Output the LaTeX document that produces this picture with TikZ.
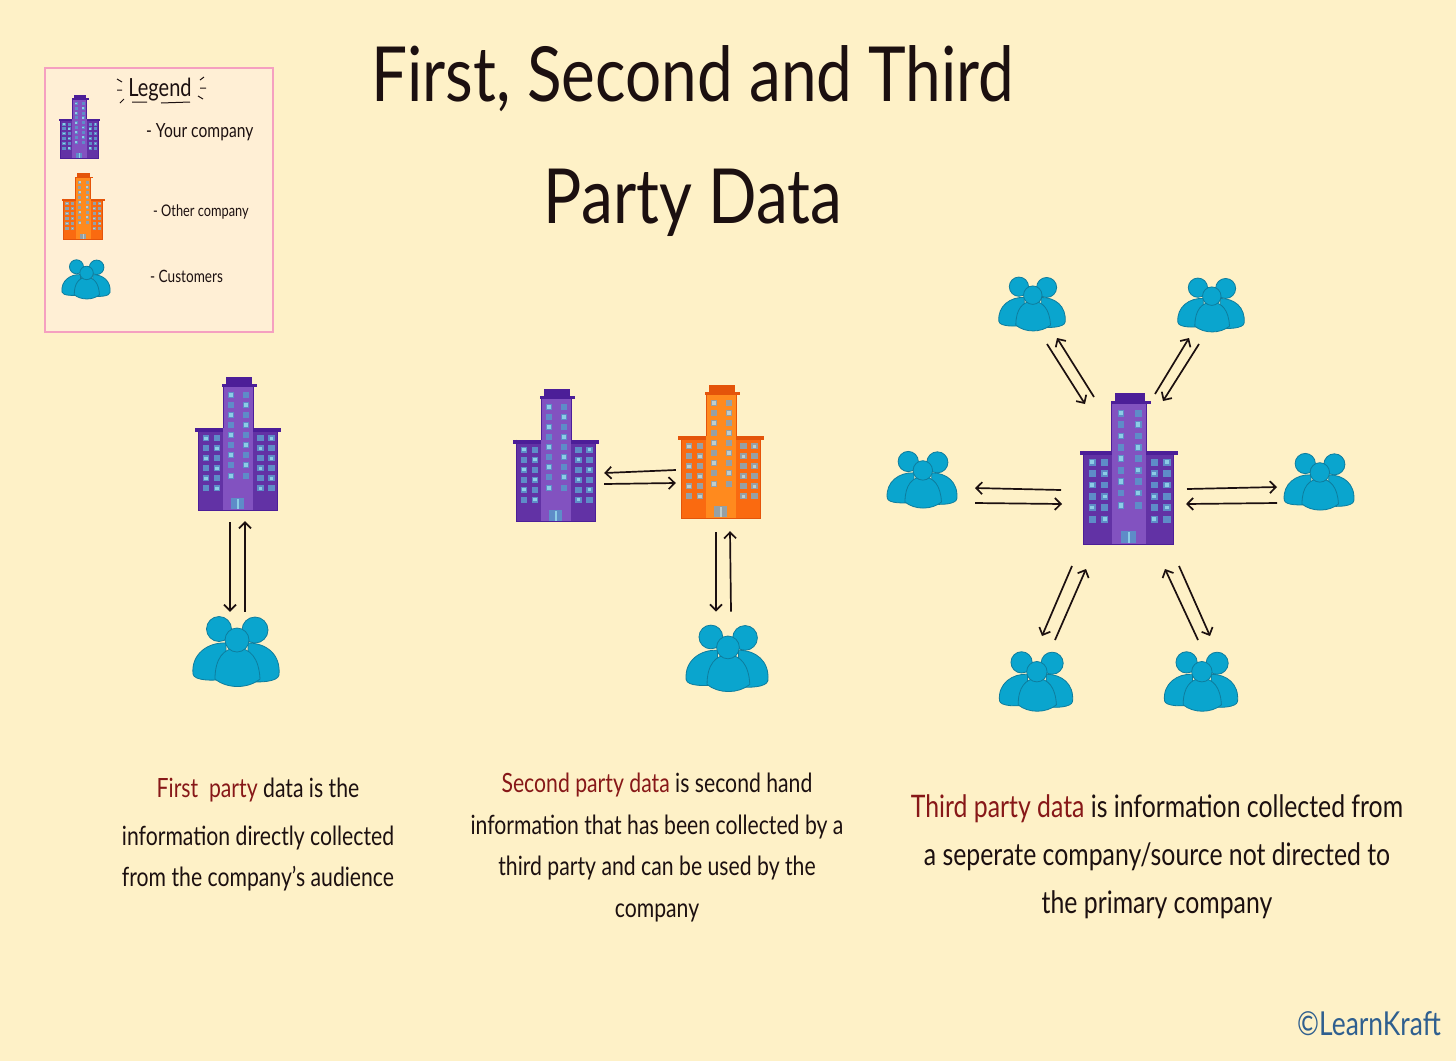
\documentclass[tikz,border=0pt]{standalone}
\usepackage{fontspec}
\usepackage{xcolor}
\usepackage{tikz}
\usetikzlibrary{arrows.meta,positioning}
\setmainfont{Lato}[FakeStretch=0.8]
\newfontfamily\titlefont{Lato}[FakeStretch=0.84]
\definecolor{papercol}{RGB}{254,241,199}
\definecolor{legendcol}{RGB}{255,239,213}
\definecolor{legendline}{RGB}{245,160,192}
\definecolor{inkcol}{RGB}{28,16,16}
\definecolor{redcol}{RGB}{135,24,24}
\definecolor{signcol}{RGB}{47,95,143}
\definecolor{purpletower}{RGB}{130,82,192}
\definecolor{purplewing}{RGB}{98,50,165}
\definecolor{purpleline}{RGB}{76,30,152}
\definecolor{purplewin}{RGB}{94,140,200}
\definecolor{purplelit}{RGB}{140,205,230}
\definecolor{orangetower}{RGB}{255,138,30}
\definecolor{orangewing}{RGB}{250,106,16}
\definecolor{orangeline}{RGB}{228,84,10}
\definecolor{orangewin}{RGB}{150,160,165}
\definecolor{orangelit}{RGB}{190,205,205}
\definecolor{crowdcol}{RGB}{10,165,206}
\definecolor{crowdline}{RGB}{14,125,158}
\tikzset{
  arrow/.style={-{Straight Barb[length=6pt,width=12pt]},line width=1.7pt,draw=inkcol},
  company/.style={minimum width=#1*86pt,minimum height=#1*134pt,inner sep=0pt},
  crowd/.style={minimum width=#1*86pt,minimum height=#1*70pt,inner sep=0pt},
  caption/.style={align=center,text=inkcol,inner sep=0pt},
  legendtext/.style={anchor=west,text=inkcol,inner sep=0pt},
  pics/tower/.style={code={
    \fill[#1wing] (-40,-16) rectangle (-15,66);
    \fill[#1wing] (15,-16) rectangle (39,66);
    \fill[#1tower] (-15,-57) rectangle (15,66);
    \draw[#1line,line width=1pt] (-40,-16) -- (-40,66) -- (39,66) -- (39,-16);
    \draw[#1line,line width=1pt] (-15,-57) -- (-15,-16) (15,-57) -- (15,-16);
    \fill[#1line] (-12,-67) rectangle (14,-60);
    \fill[#1line] (-16,-60) rectangle (19,-57);
    \fill[#1line] (-43,-16) rectangle (-15,-12);
    \fill[#1line] (15,-16) rectangle (43,-12);
    \foreach \wy [count=\wn] in {-49,-39,-29,-19,-9,1,11,21,32} {
      \fill[#1win] (-10,\wy-3) rectangle (-4,\wy+3);
      \fill[#1win] (5,\wy-3) rectangle (11,\wy+3);
      \ifodd\wn
        \fill[#1lit] (-9,\wy-2) rectangle (-5,\wy+2);
      \else
        \fill[#1lit] (6,\wy-2) rectangle (10,\wy+2);
      \fi
    }
    \foreach \wy [count=\wn] in {-6,4,14,24,34,44} {
      \fill[#1win] (-35.5,\wy-3) rectangle (-29,\wy+3);
      \fill[#1win] (-24.5,\wy-3) rectangle (-18,\wy+3);
      \fill[#1win] (19,\wy-3) rectangle (25.5,\wy+3);
      \fill[#1win] (30,\wy-3) rectangle (36.5,\wy+3);
      \ifodd\wn
        \fill[#1lit] (-34,\wy-1.5) rectangle (-30.5,\wy+1.5);
        \fill[#1lit] (31.5,\wy-1.5) rectangle (35,\wy+1.5);
      \else
        \fill[#1lit] (-23,\wy-1.5) rectangle (-19.5,\wy+1.5);
        \fill[#1lit] (20.5,\wy-1.5) rectangle (24,\wy+1.5);
      \fi
    }
    \fill[#1win] (-7,54) rectangle (6,65);
    \fill[#1lit] (-1,55) rectangle (0.5,65);
  }},
  pics/people/.style={code={
    \begin{scope}[fill=crowdcol,draw=crowdline,line width=0.8pt]
      \filldraw (-17,-29) circle (12.5);
      \filldraw (19,-28) circle (13);
      \filldraw (-43,16) .. controls (-45,-4) and (-28,-16) .. (-10,-15)
        -- (-10,21) .. controls (-22,23) and (-42,23) .. (-43,16) -- cycle;
      \filldraw (43,17) .. controls (45,-4) and (30,-15) .. (12,-15)
        -- (12,23) .. controls (22,25) and (42,24) .. (43,17) -- cycle;
      \filldraw (-21,21) .. controls (-21,0) and (-12,-10) .. (1,-10)
        .. controls (14,-10) and (23,0) .. (24,21)
        .. controls (12,31) and (-9,31) .. (-21,21) -- cycle;
      \filldraw (1,-18) circle (12);
    \end{scope}
  }}
}
\begin{document}
\begin{tikzpicture}[x=1pt,y=-1pt]
  \useasboundingbox (0,0) rectangle (1456,1061);
  \fill[papercol] (0,0) rectangle (1456,1061);
  % title
  \node[caption,font=\titlefont\fontsize{76}{122}\selectfont] (title) at (693,141)
    {First, Second and Third\\Party Data};
  % legend
  \node[draw=legendline,fill=legendcol,line width=2pt,minimum width=228pt,minimum height=264pt,
    inner sep=0pt] (legend) at (159,200) {};
  \node[text=inkcol,inner sep=0pt,font=\fontsize{25}{27}\selectfont] (legendtitle) at (160,90) {Legend};
  \draw[inkcol,line width=1pt] (117,79)--(122,82) (117,90)--(122,90) (120,103)--(124,99)
    (200,80)--(204,77) (200,88)--(206,88) (198,96)--(203,99)
    (132,102)--(147,102) (161,103)--(190,102);
  \pic[scale=.48] at (79.5,127) {tower=purple};
  \pic[scale=.5] at (83,206.5) {tower=orange};
  \pic[scale=.56] at (86,283) {people};
  \node[legendtext,font=\fontsize{19.5}{22}\selectfont] (legyour) at (146,132) {- Your company};
  \node[legendtext,font=\fontsize{16}{20}\selectfont] (legother) at (153,212) {- Other company};
  \node[legendtext,font=\fontsize{17}{20}\selectfont] (legcust) at (150,276) {- Customers};
  % first party
  \node[company=1] (first) at (238,444) {};
  \node[crowd=1] (firstcrowd) at (236,652) {};
  \pic at (first.center) {tower=purple};
  \pic at (236,658) {people};
  \draw[arrow] ([shift={(-8,11)}]first.south) -- ([shift={(-6,-5)}]firstcrowd.north);
  \draw[arrow] ([shift={(9,-5)}]firstcrowd.north) -- ([shift={(7,10)}]first.south);
  % second party
  \node[company=1] (second) at (556,455.5) {};
  \node[company=1] (other) at (721,452) {};
  \node[crowd=.95] (othercrowd) at (727,658) {};
  \pic at (second.center) {tower=purple};
  \pic at (other.center) {tower=orange};
  \pic[scale=.95] at (727,664.5) {people};
  \draw[arrow] ([shift={(-2,18)}]other.west) -- ([shift={(5,17.5)}]second.east);
  \draw[arrow] ([shift={(5,28.5)}]second.east) -- ([shift={(-2,31)}]other.west);
  \draw[arrow] ([shift={(-5,13)}]other.south) -- ([shift={(-11,-13)}]othercrowd.north);
  \draw[arrow] ([shift={(4,-13)}]othercrowd.north) -- ([shift={(9,12)}]other.south);
  % third party
  \node[company=1.14] (hub) at (1129,469) {};
  \node[crowd=.77] (crowdtl) at (1032,304) {};
  \node[crowd=.77] (crowdtr) at (1211,305) {};
  \node[crowd=.81] (crowdl) at (922,480) {};
  \node[crowd=.81] (crowdr) at (1319,482) {};
  \node[crowd=.85] (crowdbl) at (1036,682) {};
  \node[crowd=.85] (crowdbr) at (1201,682) {};
  \pic[scale=1.14] at (hub.center) {tower=purple};
  \pic[scale=.77] at (1032,309) {people};
  \pic[scale=.77] at (1211,310) {people};
  \pic[scale=.81] at (922,485) {people};
  \pic[scale=.81] at (1319,487) {people};
  \pic[scale=.85] at (1036,687) {people};
  \pic[scale=.85] at (1201,687) {people};
  \draw[arrow] ([shift={(-35,-72)}]hub.center) -- ([shift={(25,34)}]crowdtl.center);
  \draw[arrow] ([shift={(15,40)}]crowdtl.center) -- ([shift={(-44,-65)}]hub.center);
  \draw[arrow] ([shift={(26,-75)}]hub.center) -- ([shift={(-22,33)}]crowdtr.center);
  \draw[arrow] ([shift={(-12,39)}]crowdtr.center) -- ([shift={(34,-68)}]hub.center);
  \draw[arrow] ([shift={(-68,21)}]hub.center) -- ([shift={(53,8)}]crowdl.center);
  \draw[arrow] ([shift={(53,23)}]crowdl.center) -- ([shift={(-67,35)}]hub.center);
  \draw[arrow] ([shift={(58,20)}]hub.center) -- ([shift={(-42,5)}]crowdr.center);
  \draw[arrow] ([shift={(-42,21)}]crowdr.center) -- ([shift={(57,35)}]hub.center);
  \draw[arrow] ([shift={(-57,97)}]hub.center) -- ([shift={(6,-46)}]crowdbl.center);
  \draw[arrow] ([shift={(19,-42)}]crowdbl.center) -- ([shift={(-43,100)}]hub.center);
  \draw[arrow] ([shift={(-3,-42)}]crowdbr.center) -- ([shift={(36,100)}]hub.center);
  \draw[arrow] ([shift={(50,97)}]hub.center) -- ([shift={(9,-46)}]crowdbr.center);
  % captions
  \node[caption,font=\fontsize{26.5}{41}\selectfont,anchor=north] (firsttext) at (258,778)
    {\textcolor{redcol}{First\ \ party} data is the\\[7pt]information directly collected\\from the company's audience};
  \node[caption,font=\fontsize{26.5}{41.5}\selectfont,anchor=north] (secondtext) at (657,773)
    {\textcolor{redcol}{Second party data} is second hand\\information that has been collected by a\\third party and can be used by the\\company};
  \node[caption,font=\fontsize{31}{48}\selectfont,anchor=north] (thirdtext) at (1157,794)
    {\textcolor{redcol}{Third party data} is information collected from\\a seperate company/source not directed to\\the primary company};
  \node[text=signcol,inner sep=0pt,font=\fontsize{33}{35}\selectfont,anchor=east] (sign) at (1441,1024) {©LearnKraft};
\end{tikzpicture}
\end{document}
